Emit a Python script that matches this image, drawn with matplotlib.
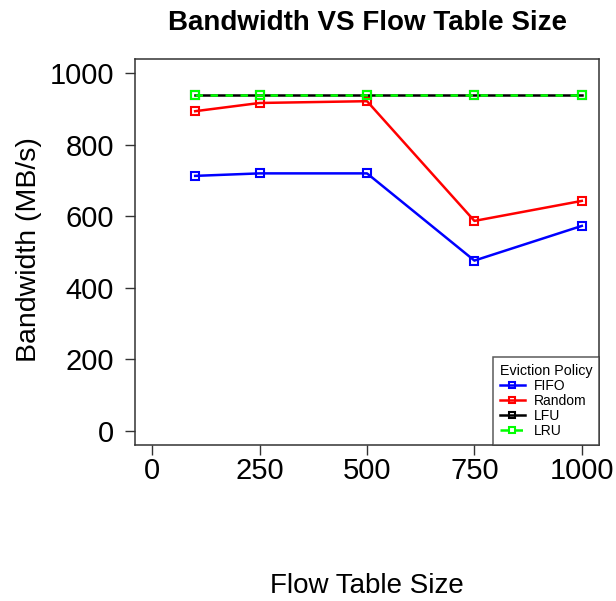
import matplotlib
matplotlib.use("Agg")
import matplotlib.pyplot as plt

# flow table sizes and measured bandwidth per eviction policy
table_size = [100, 250, 500, 750, 1000]
fifo = [713, 720, 720, 476, 573]
rand = [894, 917, 922, 587, 643]
lfu = [940, 940, 940, 940, 940]
lru = [940, 940, 940, 940, 940]

x_ticks = [0, 250, 500, 750, 1000]
y_ticks = [0, 200, 400, 600, 800, 1000]

plt.rcParams['font.family'] = ['Liberation Sans', 'DejaVu Sans']

fig = plt.figure(figsize=(6.16, 6.01), dpi=100)
ax = fig.add_axes([0.2192, 0.2596, 0.7532, 0.6422])

lw = 1.8
ms = 6
ax.plot(table_size, fifo, color='#0000ff', lw=lw, marker='s', ms=ms,
        mfc='none', mew=1.5, label='FIFO')
ax.plot(table_size, rand, color='#ff0000', lw=lw, marker='s', ms=ms,
        mfc='none', mew=1.5, label='Random')
ax.plot(table_size, lfu, color='black', lw=lw, marker='s', ms=ms,
        mfc='none', mew=1.5, label='LFU')
ax.plot(table_size, lru, color='#00ff00', lw=lw, marker='s', ms=ms,
        mfc='none', mew=1.5, dashes=(3, 3), label='LRU')

ax.set_xlim(-40, 1040)
ax.set_ylim(-40, 1040)
ax.set_xticks(x_ticks)
ax.set_yticks(y_ticks)
ax.tick_params(axis='both', direction='out', length=7, width=1,
               color='#333333', labelsize=21)
ax.tick_params(axis='y', pad=8)
ax.tick_params(axis='x', pad=1.5)

for s in ax.spines.values():
    s.set_color('#333333')
    s.set_linewidth(1.1)

fig.text(0.5958, 0.962, 'Bandwidth VS Flow Table Size', ha='center',
         va='center', fontsize=20, fontweight='bold')
fig.text(0.5958, 0.025, 'Flow Table Size', ha='center', va='center',
         fontsize=20)
fig.text(0.047, 0.585, 'Bandwidth (MB/s)', ha='center', va='center',
         rotation=90, fontsize=20.5)

leg = ax.legend(title='Eviction Policy', loc='lower right', fontsize=10,
                title_fontsize=10.3, frameon=True, fancybox=False,
                borderaxespad=0, handlelength=1.8, handletextpad=0.7,
                labelspacing=0.08, borderpad=0.5, markerscale=0.75)
leg.get_frame().set_edgecolor('#333333')
leg.get_frame().set_linewidth(1.1)
leg._legend_box.align = 'left'

fig.savefig('out.png', dpi=100)
